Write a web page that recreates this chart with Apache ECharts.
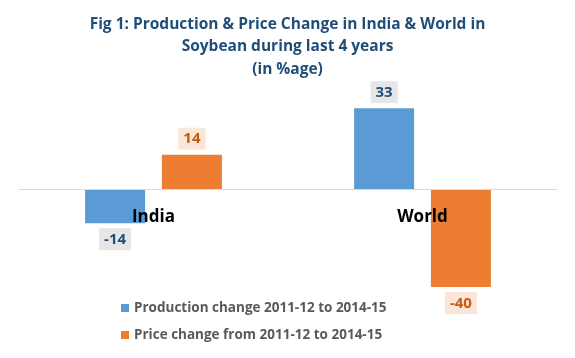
<!DOCTYPE html>
<html><head><meta charset="utf-8">
<script src="https://cdn.jsdelivr.net/npm/echarts@6/dist/echarts.min.js"></script>
<style>html,body{margin:0;padding:0;background:#fff}#c{width:575px;height:358px}</style>
</head><body><div id="c"></div>
<script>
const categories = ['India', 'World'];
const productionChange = [-14, 33];
const priceChange = [14, -40];
const seriesNames = ['Production change 2011-12 to 2014-15', 'Price change from 2011-12 to 2014-15'];
const titleText = 'Fig 1: Production & Price Change in India & World in\nSoybean during last 4 years\n(in %age)';

const FONT = '"Open Sans", "Liberation Sans", sans-serif';
const chart = echarts.init(document.getElementById('c'));
function lbl(color, bg) {
  return {
    show: true, distance: 5, fontFamily: FONT, fontSize: 15, fontWeight: 'bold',
    color: color, backgroundColor: bg, padding: [4, 5, 3, 5],
    position: 'outside'
  };
}
chart.setOption({
  animation: false,
  title: {
    text: titleText, left: 'center', top: 8,
    textStyle: { fontFamily: FONT, fontSize: 15.5, fontWeight: 'bold', color: '#1F4E79', lineHeight: 22.5, align: 'center' }
  },
  legend: {
    orient: 'vertical', left: 116, top: 296, itemWidth: 8, itemHeight: 8, itemGap: 13,
    icon: 'rect',
    textStyle: { fontFamily: FONT, fontSize: 13.5, fontWeight: 'bold', color: '#595959' }
  },
  grid: { left: 19, right: 18, top: 91, bottom: 46.5 },
  xAxis: {
    type: 'category', data: categories, z: 10, offset: -122.5,
    axisLine: { onZero: false, lineStyle: { color: '#D9D9D9', width: 1 } },
    axisTick: { show: false },
    axisLabel: { fontFamily: FONT, fontSize: 17, fontWeight: 'bold', color: '#000', margin: 20 }
  },
  yAxis: { type: 'value', min: -50, max: 40, show: false, splitLine: { show: false } },
  series: [
    { name: seriesNames[0], type: 'bar', data: productionChange, barWidth: 60, barGap: '28%',
      itemStyle: { color: '#5B9BD5' },
      label: lbl('#1F4E79', '#E7E6E6') },
    { name: seriesNames[1], type: 'bar', data: priceChange, barWidth: 60,
      itemStyle: { color: '#ED7D31' },
      label: lbl('#C55A11', '#FBE5D6') }
  ]
});
</script></body></html>
